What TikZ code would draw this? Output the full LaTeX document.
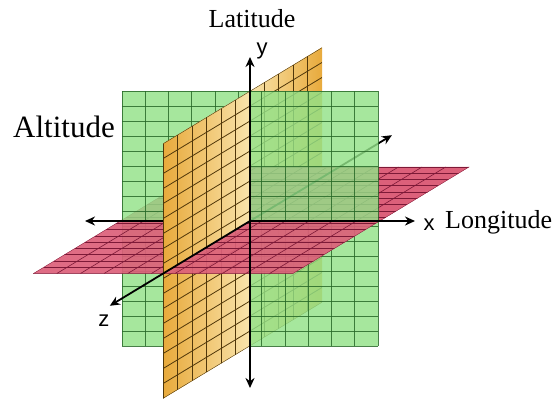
\documentclass[tikz,border=0pt]{standalone}
\usepackage{fontspec}
\setmainfont{Liberation Serif}
\newfontfamily\axisfont{Liberation Sans}
\usepackage{tikz}
\usetikzlibrary{arrows.meta}
\definecolor{planegreen}{RGB}{146,226,136}
\definecolor{gridgreen}{RGB}{40,105,40}
\definecolor{planeyellow}{RGB}{232,170,60}
\definecolor{planeyellowlt}{RGB}{249,228,172}
\definecolor{gridyellow}{RGB}{80,55,10}
\definecolor{planered}{RGB}{220,96,122}
\definecolor{gridred}{RGB}{125,25,55}
\tikzset{
  greengrid/.style={gridgreen, line width=0.7pt},
  yellowgrid/.style={gridyellow, line width=0.8pt},
  redgrid/.style={gridred, line width=0.6pt},
  axisarr/.style={-{Stealth[length=10pt,width=9pt]}, line width=1.8pt, black},
  axislabel/.style={font=\axisfont\fontsize{22}{26}\selectfont, inner sep=0pt, anchor=base},
  planelabel/.style={font=\fontsize{26}{30}\selectfont, inner sep=0pt, anchor=base}
}
% meshes of the three planes
\newcommand{\greenmesh}{%
  \foreach \k in {0,...,11}
    \draw[greengrid] ({-128+\k*256/11},-125,0) -- ({-128+\k*256/11},130,0);
  \foreach \k in {0,...,17}
    \draw[greengrid] (-128,{-125+\k*255/17},0) -- (128,{-125+\k*255/17},0);
}
\newcommand{\yellowmesh}{%
  \foreach \k in {0,...,11}
    \draw[yellowgrid] (0,-125,{-84+\k*185/11}) -- (0,130,{-84+\k*185/11});
  \foreach \k in {0,...,17}
    \draw[yellowgrid] (0,{-125+\k*255/17},-84) -- (0,{-125+\k*255/17},101);
}
\newcommand{\redmesh}{%
  \foreach \k in {0,...,11}
    \draw[redgrid] ({-130+\k*260/11},0,-104) -- ({-130+\k*260/11},0,101);
  \foreach \k in {0,...,17}
    \draw[redgrid] (-130,0,{-104+\k*205/17}) -- (130,0,{-104+\k*205/17});
}
\begin{document}
\begin{tikzpicture}[x={(1pt,0pt)}, y={(0pt,1pt)}, z={(-0.86pt,-0.52pt)}]
  \useasboundingbox (-250,-184) rectangle (306,221);

  \coordinate (O) at (0,0,0);
  % yellow plane corners
  \coordinate (yTB) at (0,130,-84);
  \coordinate (yTO) at (0,130,0);
  \coordinate (yTF) at (0,130,101);
  \coordinate (yMF) at (0,0,101);
  \coordinate (yBF) at (0,-125,101);
  \coordinate (yBO) at (0,-125,0);
  \coordinate (yBB) at (0,-125,-84);
  % red plane corners
  \coordinate (rLB) at (-130,0,-104);
  \coordinate (rRB) at (130,0,-104);
  \coordinate (rRO) at (130,0,0);
  \coordinate (rRF) at (130,0,101);
  \coordinate (rLF) at (-130,0,101);
  \coordinate (rLO) at (-130,0,0);
  % green plane corners
  \coordinate (gLB) at (-128,-125,0);
  \coordinate (gRB) at (128,-125,0);
  \coordinate (gRT) at (128,130,0);
  \coordinate (gLT) at (-128,130,0);
  % axis ends
  \coordinate (xP) at (165,0,0);
  \coordinate (xN) at (-165,0,0);
  \coordinate (yP) at (0,164,0);
  \coordinate (yN) at (0,-167,0);
  \coordinate (zP) at (0,0,163);
  \coordinate (zN) at (0,0,-165);

  % back half of yellow
  \shade[left color=planeyellowlt, right color=planeyellow] (yTB) -- (yTO) -- (yBO) -- (yBB) -- cycle;
  \begin{scope}
    \clip (yTB) -- (yTO) -- (yBO) -- (yBB) -- cycle;
    \yellowmesh
  \end{scope}

  % back half of red
  \fill[planered] (rLB) -- (rRB) -- (rRO) -- (rLO) -- cycle;
  \begin{scope}
    \clip (rLB) -- (rRB) -- (rRO) -- (rLO) -- cycle;
    \redmesh
  \end{scope}

  \draw[axisarr] (O) -- (zN);

  % green plane
  \fill[planegreen, fill opacity=0.82] (gLB) -- (gRB) -- (gRT) -- (gLT) -- cycle;
  \begin{scope}[opacity=0.85]
    \greenmesh
  \end{scope}

  % front lower quarter of yellow
  \shade[left color=planeyellow, right color=planeyellowlt] (O) -- (yMF) -- (yBF) -- (yBO) -- cycle;
  \begin{scope}
    \clip (O) -- (yMF) -- (yBF) -- (yBO) -- cycle;
    \yellowmesh
  \end{scope}

  % front half of red
  \fill[planered, fill opacity=0.92] (rLO) -- (rRO) -- (rRF) -- (rLF) -- cycle;
  \begin{scope}
    \clip (rLO) -- (rRO) -- (rRF) -- (rLF) -- cycle;
    \redmesh
  \end{scope}

  \draw[axisarr] (O) -- (xP);
  \draw[axisarr] (O) -- (xN);

  % front upper quarter of yellow
  \shade[left color=planeyellow, right color=planeyellowlt] (O) -- (yTO) -- (yTF) -- (yMF) -- cycle;
  \begin{scope}
    \clip (O) -- (yTO) -- (yTF) -- (yMF) -- cycle;
    \yellowmesh
  \end{scope}

  \draw[axisarr] (O) -- (zP);
  \draw[axisarr, {Stealth[length=10pt,width=9pt]}-{Stealth[length=10pt,width=9pt]}] (yN) -- (yP);

  % labels
  \node[axislabel] (xlab) at (179,-9) {x};
  \node[axislabel] (ylab) at (12,167) {y};
  \node[axislabel] (zlab) at (-146,-105) {z};
  \node[planelabel, anchor=base west] (lon) at (195,-7) {Longitude};
  \node[planelabel] (lat) at (2,194) {Latitude};
  \node[planelabel, font=\fontsize{31}{36}\selectfont] (alt) at (-186,84) {Altitude};
\end{tikzpicture}
\end{document}
